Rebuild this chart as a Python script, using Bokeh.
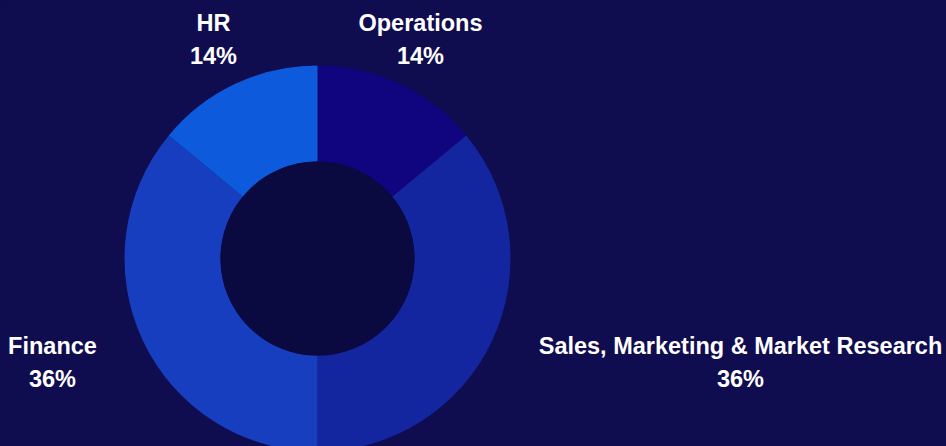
import numpy as np
from bokeh.plotting import figure
from bokeh.models import ColumnDataSource, Range1d
from bokeh.core.properties import value
from bokeh.embed import file_html
from bokeh.resources import INLINE

# ---- data (clockwise from 12 o'clock) ----
categories = ["Operations", "Sales, Marketing & Market Research", "Finance", "HR"]
shares = [14, 36, 36, 14]
colors = ["#10057f", "#1425a0", "#163ebf", "#0d5bdc"]

# ---- label layout (offsets from donut centre, px, y up) ----
label_dx = [103, 423, -265, -104]
label_name_dy = [236, -87, -87, 236]
label_pct_dy = [203, -120, -120, 203]

BG = "#0f0c4f"
HOLE = "#0a0940"

W, H = 946, 446
cx_px, cy_px = 317, 258          # centre of donut in figure pixels
R_OUT, R_IN = 193, 97

vals = np.array(shares, dtype=float)
frac = vals / vals.sum()
cum = np.concatenate([[0], np.cumsum(frac)])
start = np.pi / 2 - 2 * np.pi * cum[1:]
end = np.pi / 2 - 2 * np.pi * cum[:-1]

src = ColumnDataSource(dict(
    cat=categories, start=start, end=end, color=colors,
    x=[0] * len(categories), y=[0] * len(categories),
))

p = figure(width=W, height=H, output_backend="svg", toolbar_location=None,
           x_range=Range1d(-cx_px, W - cx_px), y_range=Range1d(-(H - cy_px), cy_px),
           min_border=0, background_fill_color=BG, border_fill_color=BG,
           outline_line_color=None)
p.axis.visible = False
p.grid.visible = False

p.annular_wedge(x="x", y="y", inner_radius=R_IN, outer_radius=R_OUT,
                start_angle="start", end_angle="end", direction="anticlock",
                fill_color="color", line_color=None, source=src)
p.circle(x=[0], y=[0], radius=R_IN, fill_color=HOLE, line_color=None)

pct = [f"{v * 100:.0f}%" for v in frac]
lab = ColumnDataSource(dict(
    x=label_dx, yn=label_name_dy, yp=label_pct_dy, name=categories, pct=pct,
))
for ycol, tcol in (("yn", "name"), ("yp", "pct")):
    p.text(x="x", y=ycol, text=tcol, source=lab, text_color="white",
           text_font=value("Liberation Sans"), text_font_style="bold",
           text_font_size="23.5px", text_align="center", text_baseline="middle")

html = file_html(p, INLINE)
html = html.replace("<head>", "<head><style>html,body{background:%s;}</style>" % BG, 1)
open("out.html", "w").write(html)
